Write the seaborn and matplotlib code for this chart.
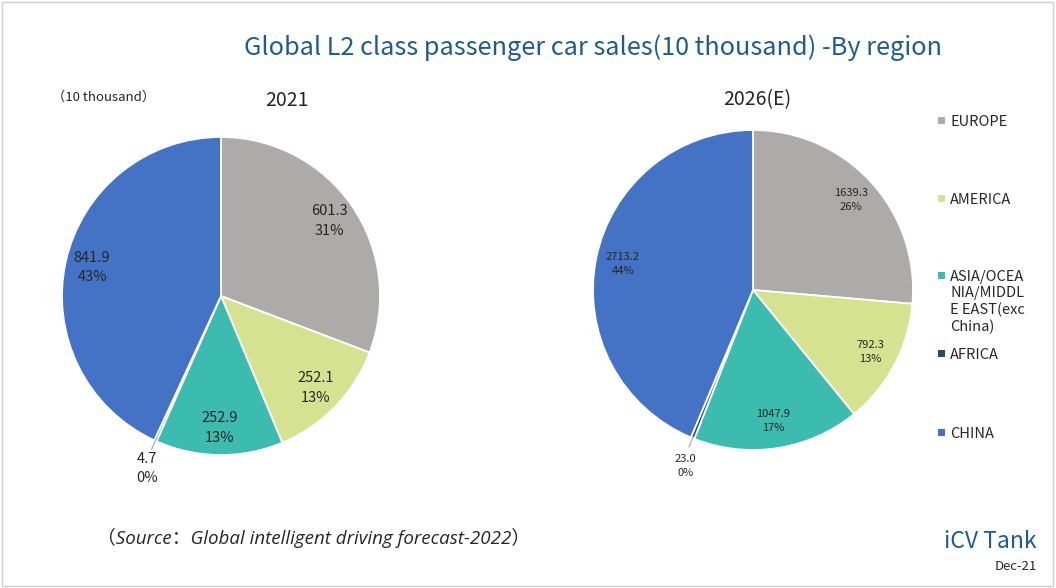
import numpy as np
import matplotlib.pyplot as plt
import seaborn as sns
from matplotlib.patches import Rectangle

# ================= DATA =================
REGIONS = ["EUROPE", "AMERICA", "ASIA/OCEA\nNIA/MIDDL\nE EAST(exc\nChina)", "AFRICA", "CHINA"]
SALES_2021 = [601.3, 252.1, 252.9, 4.7, 841.9]
SALES_2026 = [1639.3, 792.3, 1047.9, 23.0, 2713.2]
YEARS = ["2021", "2026(E)"]
COLORS = ["#AEAAAA", "#D5E391", "#3CBBAF", "#1F4E79", "#4472C4"]

TITLE_BLUE = "#1F5C8B"
TXT = "#262626"
W, H = 1056, 588

sns.set_theme(style="white")
plt.rcParams['font.family'] = ['Noto Sans CJK SC', 'DejaVu Sans']

fig = plt.figure(figsize=(W / 100, H / 100), dpi=100)


def fx(px):
    return px / W


def fy(py):
    return 1 - py / H


# rame tipis di sekeliling gambar
fig.add_artist(Rectangle((0.002, 0.003), 0.995, 0.994, transform=fig.transFigure,
                         fill=False, edgecolor="#CFCFCF", linewidth=1))


def draw_pie(ax, values, fsize):
    total = sum(values)
    labels = [f"{v:.1f}\n{round(v / total * 100):.0f}%" for v in values]
    wedges, texts = ax.pie(values, labels=labels, colors=COLORS, startangle=90,
                           counterclock=False, labeldistance=0.83,
                           wedgeprops=dict(edgecolor="white", linewidth=1.3),
                           textprops=dict(fontsize=fsize, color=TXT))
    for w, t in zip(wedges, texts):
        t.set_ha("center")
        t.set_va("center")
        t.set_linespacing(1.5)
        if (w.theta2 - w.theta1) < 5:
            # label kecil di luar, dengan garis penunjuk
            ang = np.deg2rad((w.theta1 + w.theta2) / 2)
            t.set_position((1.2 * np.cos(ang) + 0.03, 1.19 * np.sin(ang)))
            ax.plot([0.99 * np.cos(ang), 1.06 * np.cos(ang)],
                    [0.99 * np.sin(ang), 1.06 * np.sin(ang)],
                    color="#A6A6A6", linewidth=0.8)
    ax.set_xlim(-1, 1)
    ax.set_ylim(-1, 1)
    ax.set_aspect("equal")


ax1 = fig.add_axes([fx(62), fy(455), 318 / W, 318 / H])
draw_pie(ax1, SALES_2021, 10.5)
ax2 = fig.add_axes([fx(593), fy(450), 320 / W, 320 / H])
draw_pie(ax2, SALES_2026, 8)

fig.text(fx(287), fy(100), YEARS[0], ha="center", va="center", fontsize=14, color=TXT)
fig.text(fx(757), fy(100), YEARS[1], ha="center", va="center", fontsize=14, color=TXT)

fig.text(fx(593), fy(48), "Global L2 class passenger car sales(10 thousand) -By region",
         ha="center", va="center", fontsize=18.2, color=TITLE_BLUE)
fig.text(fx(104), fy(97), "（10 thousand）", ha="center", va="center", fontsize=9.5,
         color=TXT, fontweight="medium")
fig.text(fx(97), fy(538), "（Source：Global intelligent driving forecast-2022）",
         ha="left", va="center", fontsize=13.5, style="italic", color=TXT,
         family=["Open Sans", "Noto Sans CJK SC"])
fig.text(fx(1037), fy(541), "iCV Tank", ha="right", va="center", fontsize=16.5,
         color=TITLE_BLUE, fontweight="medium")
fig.text(fx(1037), fy(566), "Dec-21", ha="right", va="center", fontsize=9.5, color=TXT)

# legenda (manual, jarak antar item mengikuti gambar asli)
LEGEND_Y = [120, 198, 275, 353, 432]
for name, col, ly in zip(REGIONS, COLORS, LEGEND_Y):
    fig.add_artist(Rectangle((fx(938), fy(ly + 3.5)), 7 / W, 7 / H, transform=fig.transFigure,
                             facecolor=col, edgecolor="none"))
    fig.text(fx(950), fy(ly - 5), name, ha="left", va="top", fontsize=10.5,
             color=TXT, linespacing=1.2)

fig.savefig("out.png", dpi=100)
